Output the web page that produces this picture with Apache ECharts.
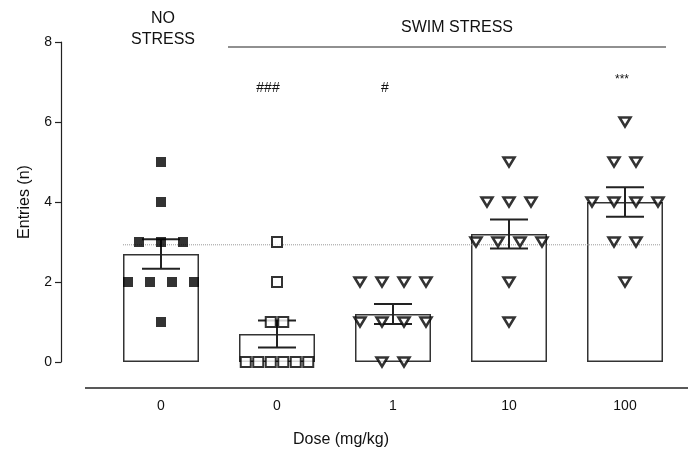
<!DOCTYPE html>
<html>
<head>
<meta charset="utf-8">
<script src="https://cdn.jsdelivr.net/npm/echarts@6/dist/echarts.min.js"></script>
<style>
  html, body { margin: 0; padding: 0; background: #fff; }
  #main { width: 688px; height: 452px; }
</style>
</head>
<body>
<div id="main"></div>
<script>
// data
const doseLabels = ['0', '0', '1', '10', '100']
const groupValues = [
  [5, 4, 3, 3, 3, 2, 2, 2, 2, 1],
  [3, 2, 1, 1, 0, 0, 0, 0, 0, 0],
  [2, 2, 2, 2, 1, 1, 1, 1, 0, 0],
  [5, 4, 4, 4, 3, 3, 3, 3, 2, 1],
  [6, 5, 5, 4, 4, 4, 4, 3, 3, 2]
]
const means = [2.7, 0.7, 1.2, 3.2, 4.0]
const sems = [0.37, 0.34, 0.25, 0.36, 0.37]
const refLevel = 2.93

// layout
const font = 'Liberation Sans, Arial, sans-serif'
const catPx = 116
const barPx = 76
const spreadPx = [22, 12.5, 22, 22, 22]

const chart = echarts.init(document.getElementById('main'))

// spread points that share a value side by side around the group centre
function swarm(g) {
  const vals = groupValues[g]
  const counts = {}
  vals.forEach(v => { counts[v] = (counts[v] || 0) + 1 })
  const seen = {}
  return vals.map(v => {
    const k = counts[v]
    const i = seen[v] || 0
    seen[v] = i + 1
    return [g + (i - (k - 1) / 2) * spreadPx[g] / catPx, v]
  })
}

const triangle = {
  symbol: 'triangle',
  symbolSize: [11, 9],
  symbolRotate: 180,
  itemStyle: { color: '#fff', borderColor: '#000', borderWidth: 2.5 }
}
const symbolStyles = [
  { symbol: 'rect', symbolSize: 10, itemStyle: { color: '#000' } },
  { symbol: 'rect', symbolSize: 10, itemStyle: { color: '#fff', borderColor: '#000', borderWidth: 2 } },
  triangle,
  triangle,
  triangle
]

const halfBar = barPx / 2 / catPx

const series = [
  {
    type: 'bar',
    xAxisIndex: 1,
    barWidth: barPx,
    data: means.map((m, i) => [i, m]),
    itemStyle: { color: '#fff', borderColor: '#333', borderWidth: 1.5 },
    z: 1
  },
  {
    type: 'line',
    xAxisIndex: 1,
    symbol: 'none',
    silent: true,
    data: [[-halfBar, refLevel], [doseLabels.length - 1 + halfBar, refLevel]],
    lineStyle: { color: '#999', width: 1, type: 'dotted' },
    z: 2
  },
  {
    type: 'custom',
    xAxisIndex: 1,
    data: means.map((m, i) => [i, m, sems[i]]),
    renderItem: (params, api) => {
      const x = api.value(0)
      const top = api.coord([x, api.value(1) + api.value(2)])
      const bot = api.coord([x, api.value(1) - api.value(2)])
      const hw = 19
      const st = { stroke: '#222', lineWidth: 2 }
      return {
        type: 'group',
        children: [
          { type: 'line', shape: { x1: top[0], y1: top[1], x2: bot[0], y2: bot[1] }, style: st },
          { type: 'line', shape: { x1: top[0] - hw, y1: top[1], x2: top[0] + hw, y2: top[1] }, style: st },
          { type: 'line', shape: { x1: bot[0] - hw, y1: bot[1], x2: bot[0] + hw, y2: bot[1] }, style: st }
        ]
      }
    },
    z: 3
  }
]

groupValues.forEach((vals, g) => {
  series.push(Object.assign({
    type: 'scatter',
    xAxisIndex: 1,
    data: swarm(g),
    z: 4
  }, symbolStyles[g]))
})

const option = {
  animation: false,
  grid: { left: 103, right: 5, top: 42, bottom: 90 },
  xAxis: [
    {
      type: 'category',
      data: doseLabels,
      axisLine: { show: false },
      axisTick: { show: false },
      axisLabel: { fontSize: 14, color: '#111', fontFamily: font, margin: 37 }
    },
    { type: 'value', min: -0.5, max: 4.5, show: false }
  ],
  yAxis: {
    type: 'value',
    min: 0,
    max: 8,
    interval: 2,
    offset: 42,
    splitLine: { show: false },
    axisLine: { show: true, onZero: false, lineStyle: { color: '#222', width: 1.2 } },
    axisTick: { show: true, length: 6, lineStyle: { color: '#222', width: 1.2 } },
    axisLabel: { fontSize: 14, color: '#111', fontFamily: font, margin: 9 },
    name: 'Entries (n)',
    nameLocation: 'middle',
    nameGap: 28,
    nameTextStyle: { fontSize: 16, color: '#111', fontFamily: font }
  },
  graphic: [
    { type: 'line', shape: { x1: 85, y1: 388, x2: 688, y2: 388 }, style: { stroke: '#222', lineWidth: 1.5 } },
    { type: 'line', shape: { x1: 228, y1: 47, x2: 666, y2: 47 }, style: { stroke: '#222', lineWidth: 1.2 } },
    { type: 'text', x: 341, y: 440, style: { text: 'Dose (mg/kg)', font: '16px ' + font, fill: '#111', textAlign: 'center', textVerticalAlign: 'middle' } },
    { type: 'text', x: 163, y: 29, style: { text: 'NO\nSTRESS', font: '16px ' + font, fill: '#111', textAlign: 'center', textVerticalAlign: 'middle', lineHeight: 21 } },
    { type: 'text', x: 457, y: 28, style: { text: 'SWIM STRESS', font: '16px ' + font, fill: '#111', textAlign: 'center', textVerticalAlign: 'middle' } },
    { type: 'text', x: 268, y: 88, style: { text: '###', font: '14px ' + font, fill: '#111', textAlign: 'center', textVerticalAlign: 'middle' } },
    { type: 'text', x: 385, y: 88, style: { text: '#', font: '14px ' + font, fill: '#111', textAlign: 'center', textVerticalAlign: 'middle' } },
    { type: 'text', x: 622, y: 80, style: { text: '***', font: '12px ' + font, fill: '#111', textAlign: 'center', textVerticalAlign: 'middle' } }
  ],
  series: series
}

chart.setOption(option)
</script>
</body>
</html>
